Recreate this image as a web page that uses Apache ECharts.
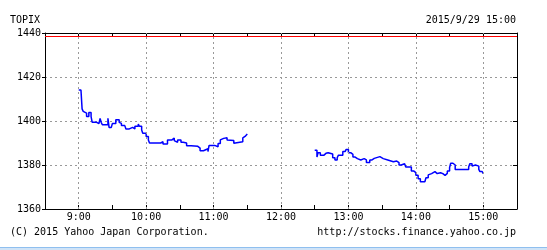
<!DOCTYPE html>
<html><head><meta charset="utf-8">
<script src="https://cdn.jsdelivr.net/npm/echarts@6/dist/echarts.min.js"></script>
<style>html,body{margin:0;padding:0;background:#fff}#c{width:547px;height:250px}</style>
</head><body><div id="c"></div>
<script>
const amTimes = ["9:00","9:02","9:03","9:04","9:05","9:07","9:09","9:11","9:12","9:16","9:18","9:19","9:20","9:21","9:26","9:27","9:29","9:30","9:33","9:36","9:37","9:38","9:41","9:42","9:45","9:48","9:50","9:53","9:54","9:56","9:57","10:00","10:02","10:03","10:08","10:09","10:13","10:15","10:19","10:23","10:25","10:26","10:28","10:31","10:33","10:34","10:36","10:40","10:46","10:48","10:51","10:55","10:56","11:01","11:04","11:06","11:07","11:09","11:12","11:13","11:18","11:19","11:26","11:27","11:28","11:29","11:30"];
const amValues = [1414.1,1413.8,1405.5,1404.4,1403.6,1402.0,1403.9,1402.0,1399.4,1398.8,1399.4,1401.2,1399.4,1398.3,1401.2,1397.1,1396.7,1398.9,1400.6,1399.4,1398.9,1397.9,1397.1,1396.4,1397.1,1396.4,1397.6,1398.6,1397.6,1395.9,1394.4,1392.9,1391.4,1390.0,1389.1,1390.0,1390.6,1389.6,1391.4,1392.3,1391.1,1390.3,1391.4,1390.3,1389.6,1390.0,1388.8,1388.5,1387.7,1386.5,1387.4,1386.1,1388.9,1388.3,1389.8,1391.4,1392.1,1392.4,1391.4,1391.1,1389.9,1390.6,1392.3,1393.0,1393.8,1394.1,1394.1];
const pmTimes = ["12:30","12:32","12:33","12:35","12:38","12:40","12:42","12:43","12:46","12:48","12:50","12:51","12:55","12:57","12:58","13:00","13:02","13:04","13:06","13:08","13:11","13:14","13:16","13:19","13:21","13:23","13:28","13:31","13:35","13:40","13:43","13:44","13:45","13:47","13:50","13:51","13:56","13:58","14:00","14:02","14:04","14:08","14:09","14:11","14:12","14:14","14:17","14:19","14:22","14:24","14:26","14:28","14:30","14:31","14:33","14:34","14:35","14:40","14:41","14:44","14:45","14:47","14:48","14:50","14:51","14:53","14:54","14:56","14:57","14:59","15:00"];
const pmValues = [1386.7,1383.6,1385.6,1384.4,1385.3,1385.6,1384.8,1385.0,1383.3,1382.3,1383.3,1384.4,1386.1,1386.7,1387.1,1385.6,1384.8,1383.6,1382.9,1382.3,1382.9,1382.3,1381.1,1382.3,1383.0,1383.8,1382.9,1382.3,1381.5,1381.8,1382.1,1381.1,1380.0,1380.6,1379.8,1379.1,1377.3,1376.5,1375.3,1373.8,1372.4,1371.8,1374.2,1375.5,1376.1,1377.0,1376.1,1376.5,1376.1,1375.3,1376.2,1377.3,1378.8,1380.8,1381.1,1380.0,1378.0,1378.8,1378.0,1377.3,1378.0,1379.1,1380.6,1379.5,1380.0,1380.3,1379.5,1378.0,1377.0,1376.1,1376.1];
const prevClose = 1438.7;
const hourTicks = ["9:00","10:00","11:00","12:00","13:00","14:00","15:00"];
const yTicks = [1360,1380,1400,1420,1440];
const titleText = "TOPIX";
const dateText = "2015/9/29 15:00";
const copyText = "(C) 2015 Yahoo Japan Corporation.";
const urlText = "http://stocks.finance.yahoo.co.jp";

function toMin(s){const p=s.split(':');return (+p[0])*60+(+p[1]);}
const am = amTimes.map((t,i)=>[toMin(t),amValues[i]]);
const pm = pmTimes.map((t,i)=>[toMin(t),pmValues[i]]);
const FONT = '"DejaVu Sans Mono", monospace';
const chart = echarts.init(document.getElementById('c'),null,{renderer:'canvas'});
const xBase = {type:'value',min:510,max:930,interval:30,
  axisLine:{show:true,lineStyle:{color:'#000',width:1}},
  axisTick:{show:true,inside:true,length:4,lineStyle:{color:'#000'}},
  splitLine:{show:false}};
const yBase = {type:'value',min:yTicks[0],max:yTicks[yTicks.length-1],interval:20,
  axisLine:{show:true,onZero:false,lineStyle:{color:'#000',width:1}},
  splitLine:{show:false}};
chart.setOption({
  animation:false,
  backgroundColor:'#fff',
  grid:{left:45,right:30,top:33,bottom:41,containLabel:false},
  xAxis:[
    Object.assign({},xBase,{position:'bottom',
      axisLabel:{show:true,margin:3,color:'#000',fontFamily:FONT,fontSize:10,
        formatter:v=>(v%60===0 && v>=540 && v<=900)?(Math.floor(v/60)+':00'):''}}),
    Object.assign({},xBase,{position:'top',axisLabel:{show:false}})
  ],
  yAxis:[
    Object.assign({},yBase,{position:'left',
      axisTick:{show:true,inside:false,length:3,lineStyle:{color:'#000'}},
      axisLabel:{show:true,margin:4,color:'#000',fontFamily:FONT,fontSize:10,formatter:v=>String(v)},
      splitLine:{show:true,showMinLine:false,showMaxLine:false,lineStyle:{color:'#999',type:[2,3],width:1}}}),
    Object.assign({},yBase,{position:'right',
      axisTick:{show:true,inside:true,length:4,lineStyle:{color:'#000'}},
      axisLabel:{show:false}})
  ],
  series:[
    {type:'line',data:[],xAxisIndex:0,yAxisIndex:0,silent:true,z:1,
      markLine:{silent:true,symbol:'none',label:{show:false},animation:false,
        lineStyle:{color:'#999',type:[2,3],width:1},
        data:hourTicks.map(t=>({xAxis:toMin(t)}))}},
    {type:'line',data:[],xAxisIndex:0,yAxisIndex:0,silent:true,z:2,
      markLine:{silent:true,symbol:'none',label:{show:false},animation:false,
        lineStyle:{color:'#ff0000',type:'solid',width:1},
        data:[{yAxis:prevClose}]}},
    {type:'line',data:am,step:'end',showSymbol:false,z:3,
      lineStyle:{color:'#0000ff',width:1.5}},
    {type:'line',data:pm,step:'end',showSymbol:false,z:3,
      lineStyle:{color:'#0000ff',width:1.5}}
  ],
  graphic:[
    {type:'text',x:10,y:20,style:{text:titleText,font:'10px '+FONT,fill:'#000',align:'left',verticalAlign:'middle'}},
    {type:'text',x:516,y:20,style:{text:dateText,font:'10px '+FONT,fill:'#000',align:'right',verticalAlign:'middle'}},
    {type:'text',x:10,y:232,style:{text:copyText,font:'10px '+FONT,fill:'#000',align:'left',verticalAlign:'middle'}},
    {type:'text',x:516,y:232,style:{text:urlText,font:'10px '+FONT,fill:'#000',align:'right',verticalAlign:'middle'}},
    {type:'rect',shape:{x:0,y:247,width:547,height:1},style:{fill:'#8fbfef'}},
    {type:'rect',shape:{x:0,y:248,width:547,height:2},style:{fill:'#cfe3f7'}}
  ]
});
</script></body></html>
